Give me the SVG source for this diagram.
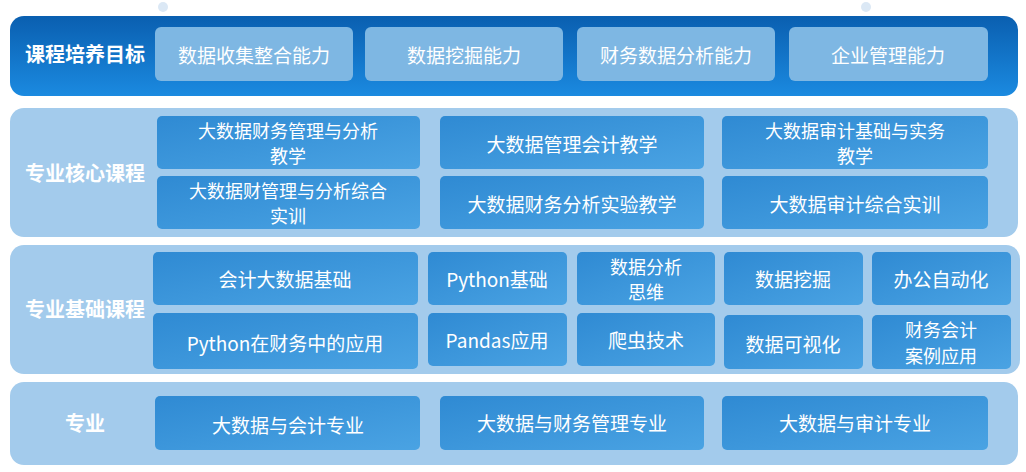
<svg xmlns="http://www.w3.org/2000/svg" width="1026" height="472" viewBox="0 0 1026 472">
<defs>
<linearGradient id="gTop" x1="0" y1="0" x2="0" y2="1"><stop offset="0" stop-color="#0a5fb0"/><stop offset="1" stop-color="#1b8ae0"/></linearGradient>
<linearGradient id="gBox" x1="0" y1="0" x2="1" y2="1"><stop offset="0" stop-color="#2f8ad3"/><stop offset="1" stop-color="#4aa3e3"/></linearGradient>
</defs>
<style>
.band{fill:#a3cbec}
.tb{fill:#7eb7e3}
.bx{fill:url(#gBox)}
text{font-family:"Noto Sans CJK SC","Liberation Sans",sans-serif;fill:#fff;text-anchor:middle;dominant-baseline:central}
.lbl{font-size:20px;font-weight:bold}
.t{font-size:19px}
.s{font-size:18px}
</style>
<rect width="1026" height="472" fill="#fff"/>
<circle cx="163" cy="7" r="5" fill="#dbe8f5"/><circle cx="866" cy="7" r="5" fill="#dbe8f5"/>
<g id="goal">
<rect x="10" y="16" width="1008" height="80" rx="14" fill="url(#gTop)"/>
<text class="lbl" x="85" y="53">课程培养目标</text>
<rect class="tb" x="155" y="27" width="198" height="54" rx="6"/><text class="t" x="254" y="54">数据收集整合能力</text>
<rect class="tb" x="365" y="27" width="198" height="54" rx="6"/><text class="t" x="464" y="54">数据挖掘能力</text>
<rect class="tb" x="577" y="27" width="198" height="54" rx="6"/><text class="t" x="676" y="54">财务数据分析能力</text>
<rect class="tb" x="789" y="27" width="199" height="54" rx="6"/><text class="t" x="888" y="54">企业管理能力</text>
</g>
<g id="core">
<rect class="band" x="10" y="108" width="1008" height="129" rx="14"/>
<text class="lbl" x="85" y="172">专业核心课程</text>
<rect class="bx" x="157" y="116" width="263" height="53" rx="5"/><text class="s" x="288" y="130">大数据财务管理与分析</text><text class="s" x="288" y="155">教学</text>
<rect class="bx" x="440" y="116" width="264" height="53" rx="5"/><text class="t" x="572" y="143">大数据管理会计教学</text>
<rect class="bx" x="722" y="116" width="266" height="53" rx="5"/><text class="s" x="855" y="130">大数据审计基础与实务</text><text class="s" x="855" y="155">教学</text>
<rect class="bx" x="157" y="176" width="263" height="53" rx="5"/><text class="s" x="288" y="190">大数据财管理与分析综合</text><text class="s" x="288" y="215">实训</text>
<rect class="bx" x="440" y="176" width="264" height="53" rx="5"/><text class="t" x="572" y="203">大数据财务分析实验教学</text>
<rect class="bx" x="722" y="176" width="266" height="53" rx="5"/><text class="t" x="855" y="203">大数据审计综合实训</text>
</g>
<g id="base">
<rect class="band" x="10" y="245" width="1010" height="129" rx="14"/>
<text class="lbl" x="85" y="308">专业基础课程</text>
<rect class="bx" x="153" y="252" width="265" height="53" rx="5"/><text class="t" x="285" y="278">会计大数据基础</text>
<rect class="bx" x="428" y="252" width="139" height="53" rx="5"/><text class="t" x="497" y="278">Python基础</text>
<rect class="bx" x="577" y="252" width="138" height="53" rx="5"/><text class="s" x="646" y="266">数据分析</text><text class="s" x="646" y="291">思维</text>
<rect class="bx" x="724" y="252" width="139" height="53" rx="5"/><text class="t" x="793" y="278">数据挖掘</text>
<rect class="bx" x="872" y="252" width="139" height="53" rx="5"/><text class="t" x="941" y="278">办公自动化</text>
<rect class="bx" x="153" y="313" width="265" height="56" rx="5"/><text class="t" x="285" y="342">Python在财务中的应用</text>
<rect class="bx" x="428" y="313" width="139" height="53" rx="5"/><text class="t" x="497" y="339">Pandas应用</text>
<rect class="bx" x="577" y="313" width="138" height="53" rx="5"/><text class="t" x="646" y="339">爬虫技术</text>
<rect class="bx" x="724" y="315" width="139" height="54" rx="5"/><text class="t" x="793" y="343">数据可视化</text>
<rect class="bx" x="872" y="315" width="139" height="54" rx="5"/><text class="s" x="941" y="329">财务会计</text><text class="s" x="941" y="355">案例应用</text>
</g>
<g id="major">
<rect class="band" x="10" y="382" width="1008" height="83" rx="14"/>
<text class="lbl" x="85" y="422">专业</text>
<rect class="bx" x="155" y="396" width="265" height="54" rx="5"/><text class="t" x="288" y="424">大数据与会计专业</text>
<rect class="bx" x="440" y="396" width="264" height="54" rx="5"/><text class="t" x="572" y="422">大数据与财务管理专业</text>
<rect class="bx" x="722" y="396" width="266" height="54" rx="5"/><text class="t" x="855" y="422">大数据与审计专业</text>
</g>
<g id="connectors"/>
</svg>
